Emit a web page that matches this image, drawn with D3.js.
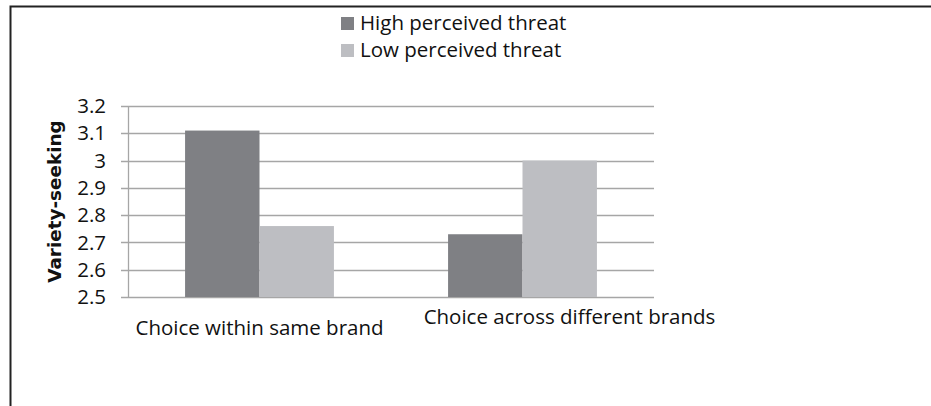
<!DOCTYPE html>
<html lang="en">
<head>
<meta charset="UTF-8">
<title>Variety-seeking by perceived threat</title>
<script src="https://cdnjs.cloudflare.com/ajax/libs/d3/7.8.5/d3.min.js"></script>
<style>
  html, body { margin: 0; padding: 0; background: #fff; }
  svg { display: block; font-family: "Open Sans", "Noto Sans", sans-serif; }
</style>
</head>
<body>
<svg id="chart" width="931" height="406"></svg>
<script>
    // Data
    const categories = ["Choice within same brand", "Choice across different brands"];
    const seriesNames = ["High perceived threat", "Low perceived threat"];
    const highThreat = [3.11, 2.73];
    const lowThreat = [2.76, 3.00];
    const yTicks = [2.5, 2.6, 2.7, 2.8, 2.9, 3, 3.1, 3.2];

    const colors = ["#7f8084", "#bdbec2"];
    const fontSize = 20.5;
    const svg = d3.select("#chart");

    // Outer frame (top + left edges visible)
    svg.append("path")
        .attr("d", "M10.5,406 L10.5,6.5 L931,6.5")
        .attr("fill", "none")
        .attr("stroke", "#222")
        .attr("stroke-width", 2);

    const plot = { left: 128, right: 654, top: 106, bottom: 297 };

    const x0 = d3.scaleBand()
        .domain(categories)
        .range([plot.left, plot.right])
        .paddingInner(0.434)
        .paddingOuter(0.217);

    const x1 = d3.scaleBand()
        .domain(seriesNames)
        .range([0, x0.bandwidth()]);

    const y = d3.scaleLinear()
        .domain([2.5, 3.2])
        .range([plot.bottom, plot.top]);

    // Gridlines
    svg.append("g")
        .selectAll("line")
        .data(yTicks)
        .join("line")
        .attr("x1", plot.left - 7)
        .attr("x2", plot.right)
        .attr("y1", d => Math.round(y(d)) + 0.5)
        .attr("y2", d => Math.round(y(d)) + 0.5)
        .attr("stroke", "#a6a6a6")
        .attr("stroke-width", 1.3);

    // Bars
    const rows = categories.map((c, i) => ({ cat: c, vals: [highThreat[i], lowThreat[i]] }));
    svg.append("g")
        .selectAll("g")
        .data(rows)
        .join("g")
        .attr("transform", d => `translate(${x0(d.cat)},0)`)
        .selectAll("rect")
        .data(d => d.vals.map((v, j) => ({ name: seriesNames[j], value: v, j })))
        .join("rect")
        .attr("x", d => x1(d.name))
        .attr("width", x1.bandwidth())
        .attr("y", d => y(d.value))
        .attr("height", d => y(2.5) - y(d.value))
        .attr("fill", d => colors[d.j]);

    // Y axis line
    svg.append("line")
        .attr("x1", plot.left + 0.5).attr("x2", plot.left + 0.5)
        .attr("y1", plot.top).attr("y2", plot.bottom)
        .attr("stroke", "#a6a6a6")
        .attr("stroke-width", 1.3);

    // Y tick labels
    svg.append("g")
        .selectAll("text")
        .data(yTicks)
        .join("text")
        .attr("x", 106)
        .attr("y", d => y(d))
        .attr("dy", "0.35em")
        .attr("text-anchor", "end")
        .attr("font-size", fontSize)
        .attr("fill", "#111")
        .text(d => d);

    // Y title
    svg.append("text")
        .attr("transform", `translate(61,${(plot.top + plot.bottom) / 2}) rotate(-90)`)
        .attr("text-anchor", "middle")
        .attr("font-family", "DejaVu Sans, sans-serif")
        .attr("font-size", 18.4)
        .attr("font-weight", "bold")
        .attr("fill", "#111")
        .text("Variety-seeking");

    // Category labels (staggered and nudged like the original)
    const labelY = [335, 324];
    const labelShift = [0, 47];
    svg.append("g")
        .selectAll("text")
        .data(categories)
        .join("text")
        .attr("x", (d, i) => x0(d) + x0.bandwidth() / 2 + labelShift[i])
        .attr("y", (d, i) => labelY[i])
        .attr("text-anchor", "middle")
        .attr("font-size", fontSize)
        .attr("fill", "#111")
        .text(d => d);

    // Legend
    const legend = svg.append("g")
        .selectAll("g")
        .data(seriesNames)
        .join("g")
        .attr("transform", (d, i) => `translate(341,${17 + i * 27})`);
    legend.append("rect")
        .attr("width", 13).attr("height", 13)
        .attr("fill", (d, i) => colors[i]);
    legend.append("text")
        .attr("x", 19)
        .attr("y", 13)
        .attr("font-size", fontSize)
        .attr("fill", "#111")
        .text(d => d);
</script>
</body>
</html>
